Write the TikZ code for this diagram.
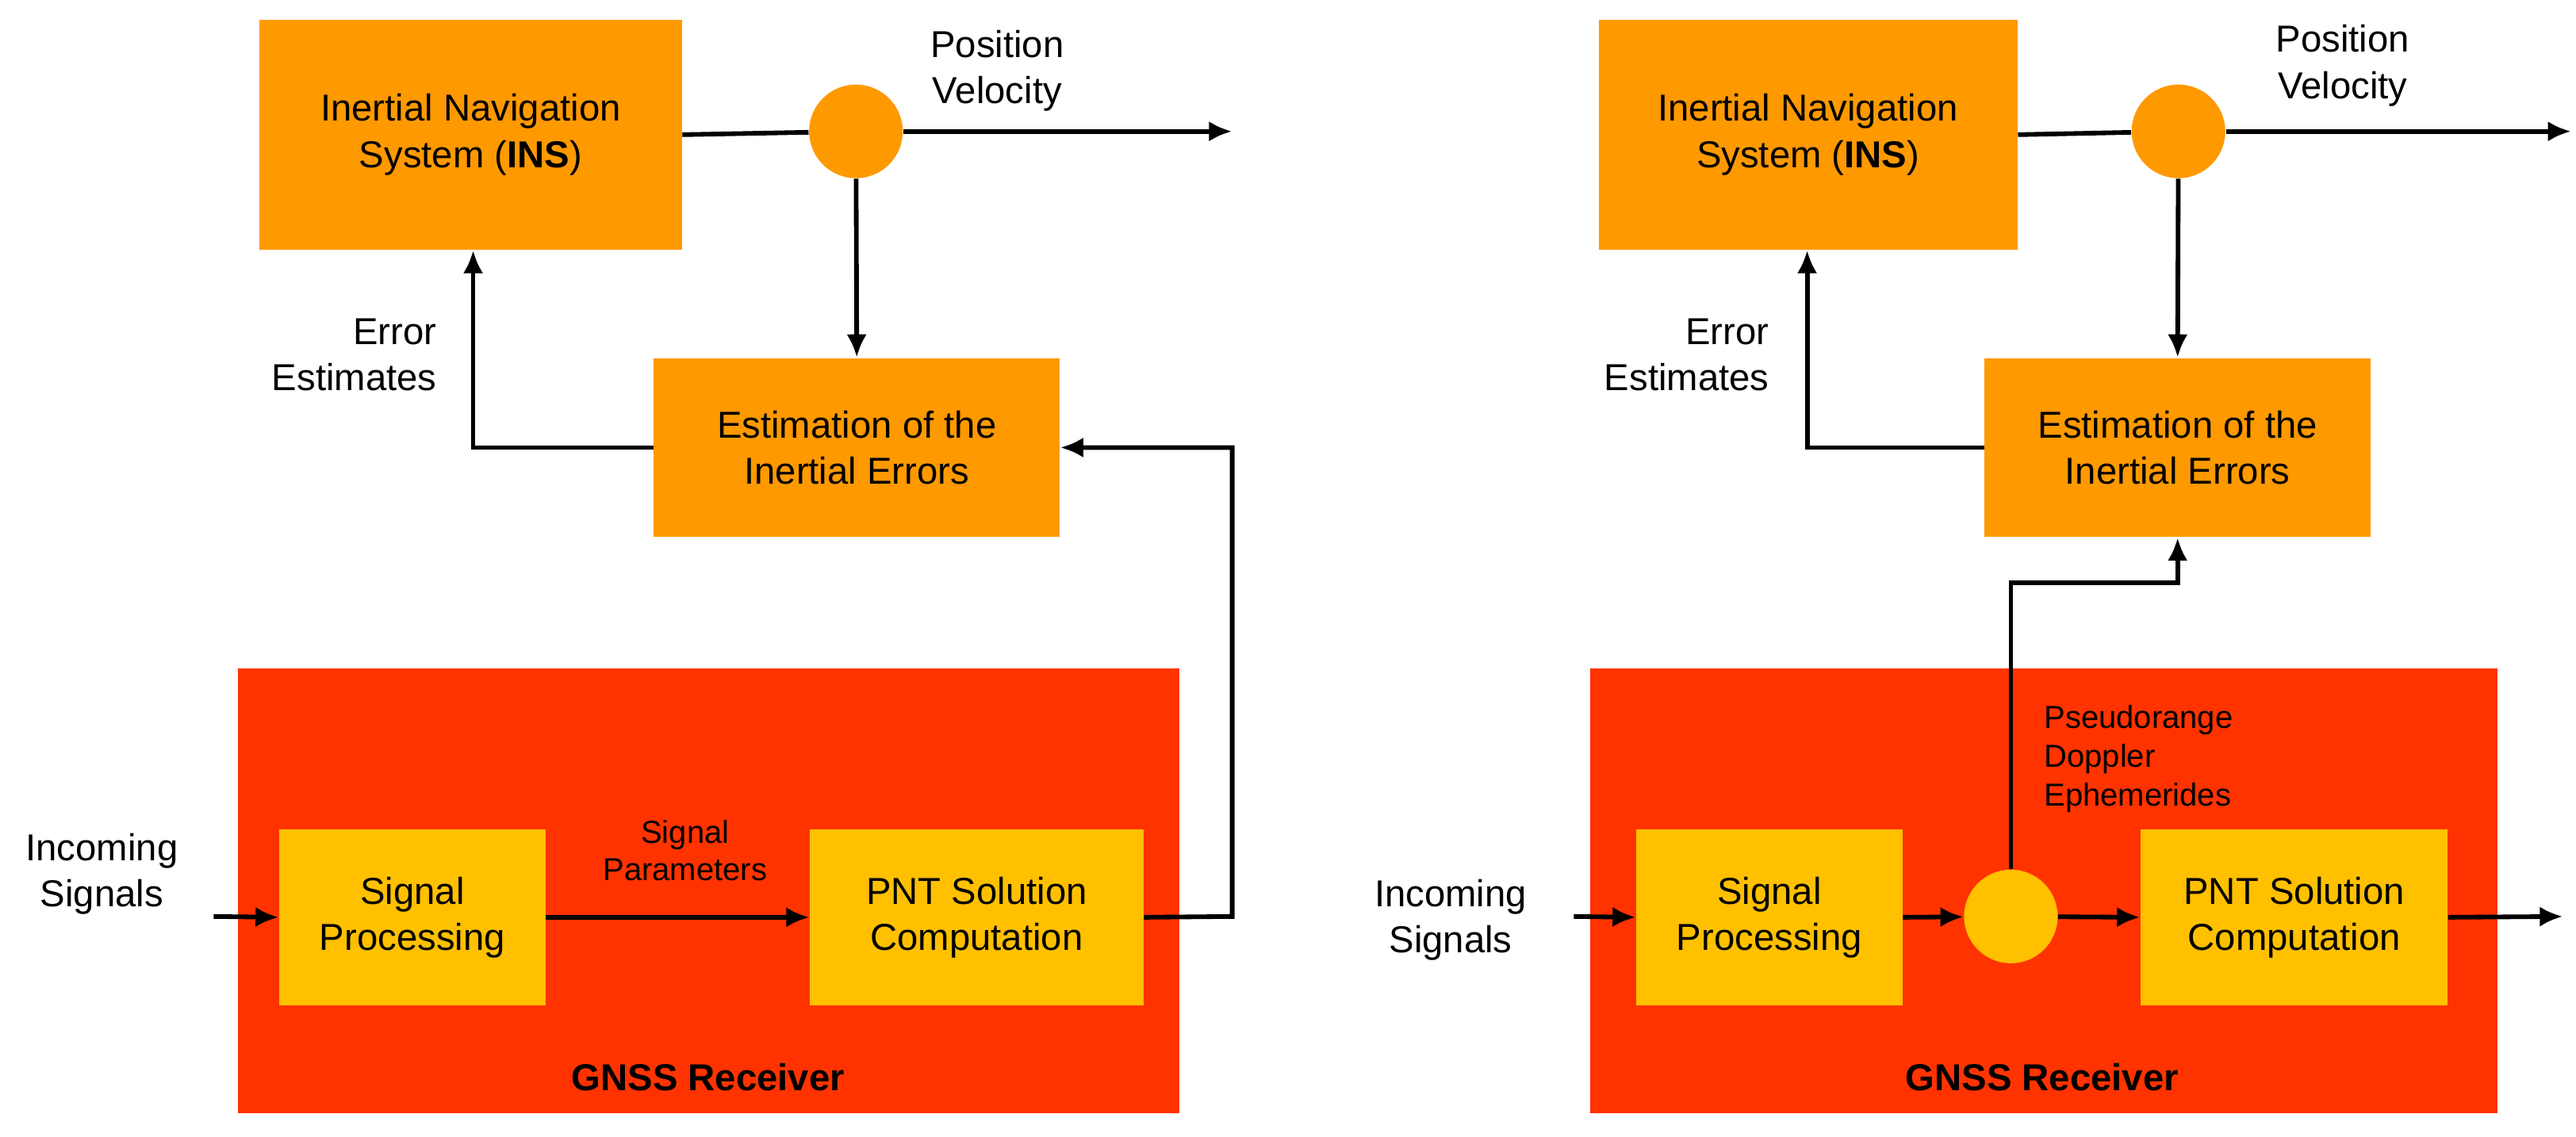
\documentclass[tikz,border=0pt]{standalone}
\usepackage{fontspec}
\setmainfont{Liberation Sans}
\usetikzlibrary{arrows.meta}
\definecolor{insorange}{HTML}{FF9900}
\definecolor{gnssred}{HTML}{FF3300}
\definecolor{procyellow}{HTML}{FFC000}
\tikzstyle{arrow} = [draw, line width=1.6pt, color=black, -{Latex[length=8pt,width=7pt]}]
\tikzstyle{line} = [draw, line width=1.6pt, color=black]
\tikzstyle{blk} = [draw=none, align=center, font=\fontsize{13}{16}\selectfont]
\tikzstyle{txt} = [align=center, font=\fontsize{13}{16}\selectfont]

\begin{document}
\begin{tikzpicture}[x=0.02cm,y=-0.02cm]
\useasboundingbox (0,0) rectangle (1568,692);

% left panel
\node[blk,fill=insorange,minimum width=257*0.02cm,minimum height=140*0.02cm] (ins) at (286.5,82) {Inertial Navigation\\System (\textbf{INS})};
\node[circle,fill=insorange,minimum size=57*0.02cm,inner sep=0pt] (sum) at (521,80) {};
\node[blk,fill=insorange,minimum width=247*0.02cm,minimum height=109*0.02cm] (est) at (521.5,272.5) {Estimation of the\\Inertial Errors};
\node[txt] (pv) at (607,43) {Position\\Velocity};
\node[txt,align=right,anchor=east] (err) at (272,216) {Error\\Estimates};
\node[fill=gnssred,minimum width=573*0.02cm,minimum height=271*0.02cm] (rx) at (431.5,542.5) {};
\node[blk,fill=procyellow,minimum width=162*0.02cm,minimum height=107*0.02cm] (sp) at (251,558.5) {Signal\\Processing};
\node[blk,fill=procyellow,minimum width=203*0.02cm,minimum height=107*0.02cm] (pnt) at (594.5,558.5) {PNT Solution\\Computation};
\node[txt] (inc) at (62,532) {Incoming\\Signals};
\node[txt,font=\fontsize{11}{13}\selectfont] (par) at (417,518) {Signal\\Parameters};
\node[font=\fontsize{13}{16}\selectfont\bfseries] (rxl) at (431,656) {GNSS Receiver};
\coordinate (out) at (750,80);
\coordinate (in) at (130,558);

\draw[line] (ins.east) -- (sum);
\draw[arrow] (sum) -- (out);
\draw[arrow] (sum) -- (est.north);
\draw[arrow] (est.west) -| (ins.south -| 288,0);
\draw[arrow] (in) -- (sp.west);
\draw[arrow] (sp.east) -- (pnt.west);
\draw[arrow] (pnt.east) -- (750,558) |- (est.east);

% right panel
\node[blk,fill=insorange,minimum width=255*0.02cm,minimum height=140*0.02cm] (ins2) at (1100.5,82) {Inertial Navigation\\System (\textbf{INS})};
\node[circle,fill=insorange,minimum size=57*0.02cm,inner sep=0pt] (sum2) at (1326,80) {};
\node[blk,fill=insorange,minimum width=235*0.02cm,minimum height=109*0.02cm] (est2) at (1325.5,272.5) {Estimation of the\\Inertial Errors};
\node[txt] (pv2) at (1426,40) {Position\\Velocity};
\node[txt,align=right,anchor=east] (err2) at (1083,216) {Error\\Estimates};
\node[fill=gnssred,minimum width=552*0.02cm,minimum height=271*0.02cm] (rx2) at (1244,542.5) {};
\node[blk,fill=procyellow,minimum width=162*0.02cm,minimum height=107*0.02cm] (sp2) at (1077,558.5) {Signal\\Processing};
\node[circle,fill=procyellow,minimum size=57*0.02cm,inner sep=0pt] (tap) at (1224,558) {};
\node[blk,fill=procyellow,minimum width=187*0.02cm,minimum height=107*0.02cm] (pnt2) at (1396.5,558.5) {PNT Solution\\Computation};
\node[txt] (inc2) at (883,560) {Incoming\\Signals};
\node[txt,align=left,anchor=west,font=\fontsize{11}{13.5}\selectfont] (obs) at (1238,462) {Pseudorange\\Doppler\\Ephemerides};
\node[font=\fontsize{13}{16}\selectfont\bfseries] (rxl2) at (1243,656) {GNSS Receiver};
\coordinate (out2) at (1565,80);
\coordinate (in2) at (958,558);
\coordinate (pout2) at (1560,558);

\draw[line] (ins2.east) -- (sum2);
\draw[arrow] (sum2) -- (out2);
\draw[arrow] (sum2) -- (est2.north);
\draw[arrow] (est2.west) -| (ins2.south -| 1100,0);
\draw[arrow] (in2) -- (sp2.west);
\draw[arrow] (sp2.east) -- (tap);
\draw[arrow] (tap) -- (pnt2.west);
\draw[arrow] (pnt2.east) -- (pout2);
\draw[arrow] (tap.north) -- (1224,355) -| (est2.south);

\end{tikzpicture}
\end{document}
